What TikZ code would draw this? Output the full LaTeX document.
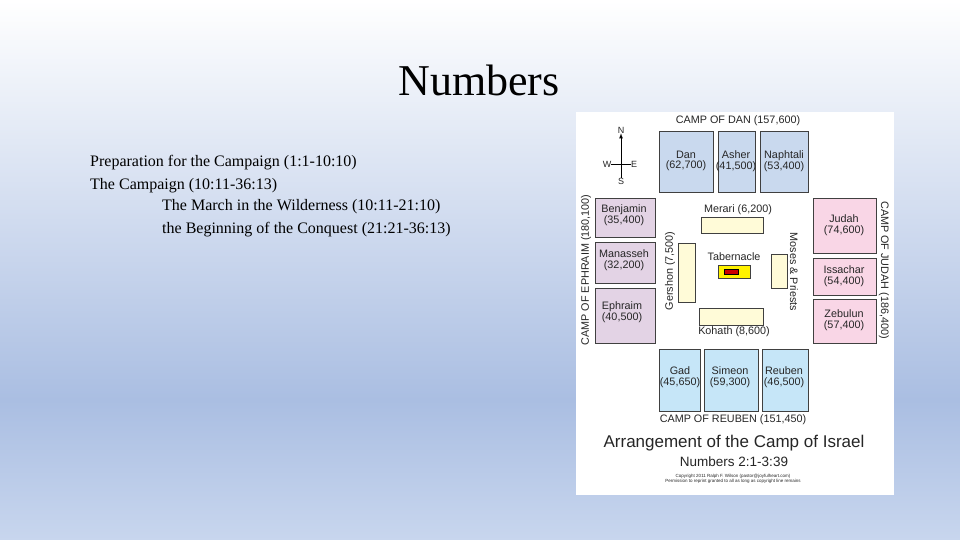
\documentclass[tikz,border=0pt]{standalone}
\usepackage{fontspec}
\setmainfont{Liberation Serif}
\newfontfamily\sans{Liberation Sans}
\begin{document}
\begin{tikzpicture}[x=1pt,y=-1pt,
  box/.style={draw=black!75,line width=0.8pt},
  lab/.style={font=\sans\fontsize{10.8}{10.5}\selectfont,align=center,inner sep=0pt,text=black!85},
  body/.style={font=\fontsize{16}{16}\selectfont,anchor=west,inner sep=0pt}]
\useasboundingbox (0,0) rectangle (960,540);
\shade[top color=white,bottom color={rgb,255:red,170;green,190;blue,226}] (0,0) rectangle (960,400);
\shade[top color={rgb,255:red,170;green,190;blue,226},bottom color={rgb,255:red,200;green,214;blue,238}] (0,400) rectangle (960,540);
\node[font=\fontsize{44}{44}\selectfont] (title) at (479,80) {Numbers};
\node[body] (l1) at (90,163) {Preparation for the Campaign (1:1-10:10)};
\node[body] (l2) at (90,186) {The Campaign (10:11-36:13)};
\node[body] (l3) at (162,207) {The March in the Wilderness (10:11-21:10)};
\node[body] (l4) at (162,230) {the Beginning of the Conquest (21:21-36:13)};
% panel
\fill[white] (576,112) rectangle (894,495);
\definecolor{tb}{RGB}{201,217,238}
\definecolor{tc}{RGB}{198,230,248}
\definecolor{tp}{RGB}{227,211,229}
\definecolor{tk}{RGB}{249,214,230}
\definecolor{tcr}{RGB}{255,251,216}
\node[lab] (cd) at (738,121) {CAMP OF DAN (157,600)};
% compass
\node[lab,font=\sans\fontsize{9}{9}\selectfont] (nN) at (621,130) {N};
\node[lab,font=\sans\fontsize{9}{9}\selectfont] (nS) at (621,181) {S};
\node[lab,font=\sans\fontsize{9}{9}\selectfont] (nW) at (607,164) {W};
\node[lab,font=\sans\fontsize{9}{9}\selectfont] (nE) at (634,164) {E};
\draw[-latex,line width=0.8pt] (nS.north) -- (nN.south);
\draw[line width=0.8pt] (nW.east) -- (nE.west);
% Dan
\draw[box,fill=tb] (659,131) rectangle (713,192); \node[lab] (dan) at (686,161) {Dan\\(62,700)};
\draw[box,fill=tb] (718,131) rectangle (755,192); \node[lab] (ash) at (736,161) {Asher\\(41,500)};
\draw[box,fill=tb] (760,131) rectangle (808,192); \node[lab] (nap) at (784,161) {Naphtali\\(53,400)};
% Ephraim
\draw[box,fill=tp] (595,198) rectangle (655,237); \node[lab] (ben) at (624,215) {Benjamin\\(35,400)};
\draw[box,fill=tp] (595,242) rectangle (655,283); \node[lab] (man) at (624,260) {Manasseh\\(32,200)};
\draw[box,fill=tp] (595,288) rectangle (655,343); \node[lab] (eph) at (622,312) {Ephraim\\(40,500)};
\node[lab,rotate=90] (ce) at (586,270) {CAMP OF EPHRAIM (180,100)};
% Judah
\draw[box,fill=tk] (813,198) rectangle (876,253); \node[lab] (jud) at (844,225) {Judah\\(74,600)};
\draw[box,fill=tk] (813,258) rectangle (876,295); \node[lab] (iss) at (844,276) {Issachar\\(54,400)};
\draw[box,fill=tk] (813,299) rectangle (876,343); \node[lab] (zeb) at (844,320) {Zebulun\\(57,400)};
\node[lab,rotate=-90] (cj) at (884,270) {CAMP OF JUDAH (186,400)};
% Levites
\node[lab] (mer) at (738,210) {Merari (6,200)};
\draw[box,fill=tcr] (701,217) rectangle (763,233);
\draw[box,fill=tcr] (678,243) rectangle (695,302);
\node[lab,rotate=90] (ger) at (670,271) {Gershon (7,500)};
\draw[box,fill=tcr] (771,254) rectangle (787,288);
\node[lab,rotate=-90] (mos) at (794,272) {Moses \& Priests};
\node[lab] (tab) at (734,257) {Tabernacle};
\draw[box,fill=yellow] (718,265) rectangle (750,278);
\draw[line width=0.5pt,fill=red!80!black] (724,269) rectangle (738,274);
\draw[box,fill=tcr] (699,308) rectangle (763,325);
\node[lab] (koh) at (734,332) {Kohath (8,600)};
% Reuben
\draw[box,fill=tc] (659,349) rectangle (700,411); \node[lab] (gad) at (680,377) {Gad\\(45,650)};
\draw[box,fill=tc] (704,349) rectangle (758,411); \node[lab] (sim) at (730,377) {Simeon\\(59,300)};
\draw[box,fill=tc] (762,349) rectangle (808,411); \node[lab] (reu) at (784,377) {Reuben\\(46,500)};
\node[lab] (cr) at (733,420) {CAMP OF REUBEN (151,450)};
\node[lab,font=\sans\fontsize{17}{17}\selectfont] (arr) at (734,443) {Arrangement of the Camp of Israel};
\node[lab,font=\sans\fontsize{13.5}{13.5}\selectfont] (num) at (734,462) {Numbers 2:1-3:39};
\node[lab,font=\sans\fontsize{4.5}{5.5}\selectfont] (cp) at (733,479) {Copyright 2011 Ralph F. Wilson (pastor@joyfulheart.com)\\Permission to reprint granted to all as long as copyright line remains};
\end{tikzpicture}
\end{document}
